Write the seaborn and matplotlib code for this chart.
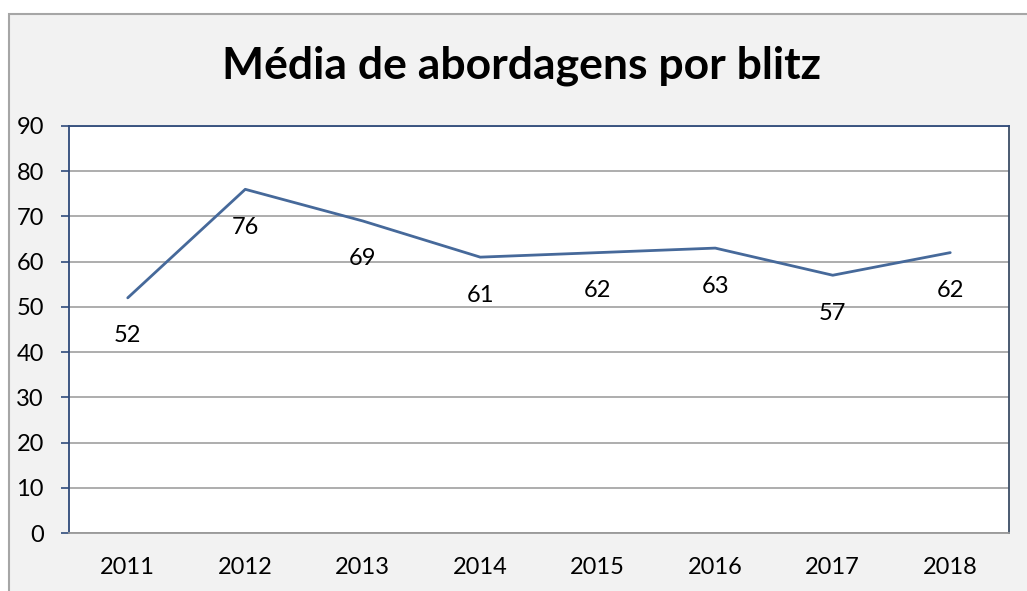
import matplotlib
matplotlib.use("Agg")
import matplotlib.pyplot as plt
import seaborn as sns
import pandas as pd
import numpy as np
from matplotlib.patches import Rectangle

years = ["2011", "2012", "2013", "2014", "2015", "2016", "2017", "2018"]
values = [52, 76, 69, 61, 62, 63, 57, 62]
yticks = [0, 10, 20, 30, 40, 50, 60, 70, 80, 90]
title = "Média de abordagens por blitz"

sns.set_style("white")
plt.rcParams['font.family'] = ['Lato', 'DejaVu Sans']

df = pd.DataFrame({"pos": np.arange(len(years)), "ano": years, "valor": values})

fig = plt.figure(figsize=(10.27, 5.91), dpi=100)
fig.patch.set_facecolor("white")
# chart area background with border
bg = Rectangle((9 / 1027, -0.1), 1.2, 1 - 14 / 591 + 0.1, transform=fig.transFigure,
               facecolor="#f2f2f2", edgecolor="#a6a6a6", linewidth=1.5, zorder=-10)
fig.add_artist(bg)

ax = fig.add_axes([69 / 1027, 1 - 533 / 591, (1009 - 69) / 1027, (533 - 126) / 591])
ax.set_zorder(1)
ax.set_facecolor("white")

sns.lineplot(data=df, x="pos", y="valor", ax=ax, color="#46699a", linewidth=2.0, zorder=3)

ax.set_xlim(-0.5, len(years) - 0.5)
ax.set_ylim(0, 90)
ax.set_yticks(yticks)
ax.set_yticklabels([str(t) for t in yticks])
ax.yaxis.grid(True, color="#a0a0a0", linewidth=1.2)
ax.set_axisbelow(True)

ax.set_xticks(df["pos"])
ax.set_xticklabels(years)
ax.set_xticks(np.arange(-0.5, len(years)), minor=True)
ax.tick_params(axis="x", which="major", length=0, pad=17, labelsize=17, colors="black")
ax.tick_params(axis="x", which="minor", length=6, width=1.2, color="#999999", direction="out")
ax.tick_params(axis="y", which="major", length=6, width=1.2, color="#2f4a7a", direction="out",
               labelsize=17, pad=12, labelcolor="black", left=True)
ax.set_xlabel("")
ax.set_ylabel("")

for s in ["left", "top", "right"]:
    ax.spines[s].set_visible(True)
ax.spines["left"].set_color("#2f4a7a")
ax.spines["top"].set_color("#2f4a7a")
ax.spines["right"].set_color("#3b4d66")
ax.spines["bottom"].set_color("#999999")
for s in ax.spines.values():
    s.set_linewidth(1.3)

for i, v in enumerate(values):
    ax.annotate(str(v), (i, v), xytext=(0, -38), textcoords="offset pixels",
                ha="center", va="center", fontsize=17, color="black", zorder=4)

fig.text(522 / 1027, 1 - 66 / 591, title, ha="center", va="center",
         fontsize=32, fontweight="bold", color="black")

fig.savefig("out.png", dpi=100)
